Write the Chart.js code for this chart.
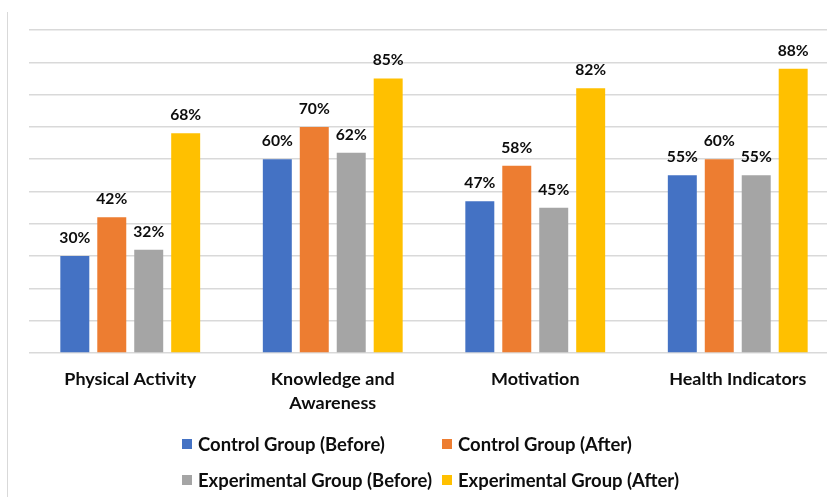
<!DOCTYPE html>
<html>
<head>
<meta charset="utf-8">
<script src="https://cdn.jsdelivr.net/npm/chart.js@4/dist/chart.umd.min.js"></script>
<style>
html,body{margin:0;padding:0;background:#fff;width:827px;height:497px;overflow:hidden;}
#wrap{position:absolute;left:0;top:0;width:845px;height:435px;}
#frame{position:absolute;left:7px;top:12px;width:0;height:485px;border-left:1px solid #d9d9d9;}
#legend{position:absolute;left:182px;top:426px;display:grid;grid-template-columns:260px auto;grid-auto-rows:36px;}
.item{display:flex;align-items:center;font-weight:bold;color:#0d0d0d;white-space:nowrap;}
.sw{width:10px;height:10px;margin-right:6px;flex:none;}
</style>
</head>
<body>
<div id="frame"></div>
<div id="wrap"><canvas id="c" width="845" height="435"></canvas></div>
<div id="legend"></div>
<script>
// ---- data ----
const categories = ['Physical Activity', ['Knowledge and', 'Awareness'], 'Motivation', 'Health Indicators'];
const seriesNames = ['Control Group (Before)', 'Control Group (After)', 'Experimental Group (Before)', 'Experimental Group (After)'];
const seriesColors = ['#4472C4', '#ED7D31', '#A5A5A5', '#FFC000'];
const controlBefore = [30, 60, 47, 55];
const controlAfter = [42, 70, 58, 60];
const experimentalBefore = [32, 62, 45, 55];
const experimentalAfter = [68, 85, 82, 88];
const yTicks = [0, 10, 20, 30, 40, 50, 60, 70, 80, 90, 100];

const FONT = 'Lato';
function fitSize(text, target) {
  const c = document.createElement('canvas').getContext('2d');
  c.font = 'bold 100px ' + FONT;
  return 100 * target / c.measureText(text).width;
}
const legendSize = fitSize('Control Group (Before)', 187);
const tickSize = fitSize('Physical Activity', 132);
const valueSize = fitSize('47%', 31);

const seriesData = [controlBefore, controlAfter, experimentalBefore, experimentalAfter];

// legend (HTML)
const lg = document.getElementById('legend');
seriesNames.forEach((n, i) => {
  const it = document.createElement('div');
  it.className = 'item';
  it.style.fontFamily = FONT;
  it.style.fontSize = legendSize + 'px';
  const sw = document.createElement('span');
  sw.className = 'sw';
  sw.style.background = seriesColors[i];
  const tx = document.createElement('span');
  tx.textContent = n;
  it.appendChild(sw); it.appendChild(tx);
  lg.appendChild(it);
});

const valueLabels = {
  id: 'valueLabels',
  afterDatasetsDraw(chart) {
    const ctx = chart.ctx;
    ctx.save();
    ctx.font = 'bold ' + valueSize + 'px ' + FONT;
    ctx.fillStyle = '#0d0d0d';
    ctx.textAlign = 'center';
    ctx.textBaseline = 'alphabetic';
    chart.data.datasets.forEach((ds, i) => {
      chart.getDatasetMeta(i).data.forEach((bar, j) => {
        ctx.fillText(ds.data[j] + '%', bar.x, bar.y - 13);
      });
    });
    ctx.restore();
  }
};

new Chart(document.getElementById('c'), {
  type: 'bar',
  data: {
    labels: categories,
    datasets: seriesNames.map((n, i) => ({
      label: n,
      data: seriesData[i],
      backgroundColor: seriesColors[i],
      borderWidth: 0,
      barPercentage: 0.784,
      categoryPercentage: 0.73
    }))
  },
  options: {
    responsive: false,
    animation: false,
    devicePixelRatio: 1,
    layout: { padding: { left: 29, right: 6, top: 30, bottom: 6 } },
    plugins: { legend: { display: false }, tooltip: { enabled: false } },
    scales: {
      x: {
        grid: { display: false, drawTicks: false },
        border: { display: false },
        ticks: {
          color: '#0d0d0d',
          padding: 14,
          maxRotation: 0,
          autoSkip: false,
          font: { family: FONT, weight: 'bold', size: tickSize, lineHeight: 24 / tickSize }
        }
      },
      y: {
        min: 0, max: 100,
        afterBuildTicks(scale) { scale.ticks = yTicks.map(v => ({ value: v })); },
        grid: { color: '#d9d9d9', lineWidth: 1.5, drawTicks: false },
        border: { display: false },
        ticks: { display: false }
      }
    }
  },
  plugins: [valueLabels]
});
</script>
</body>
</html>
